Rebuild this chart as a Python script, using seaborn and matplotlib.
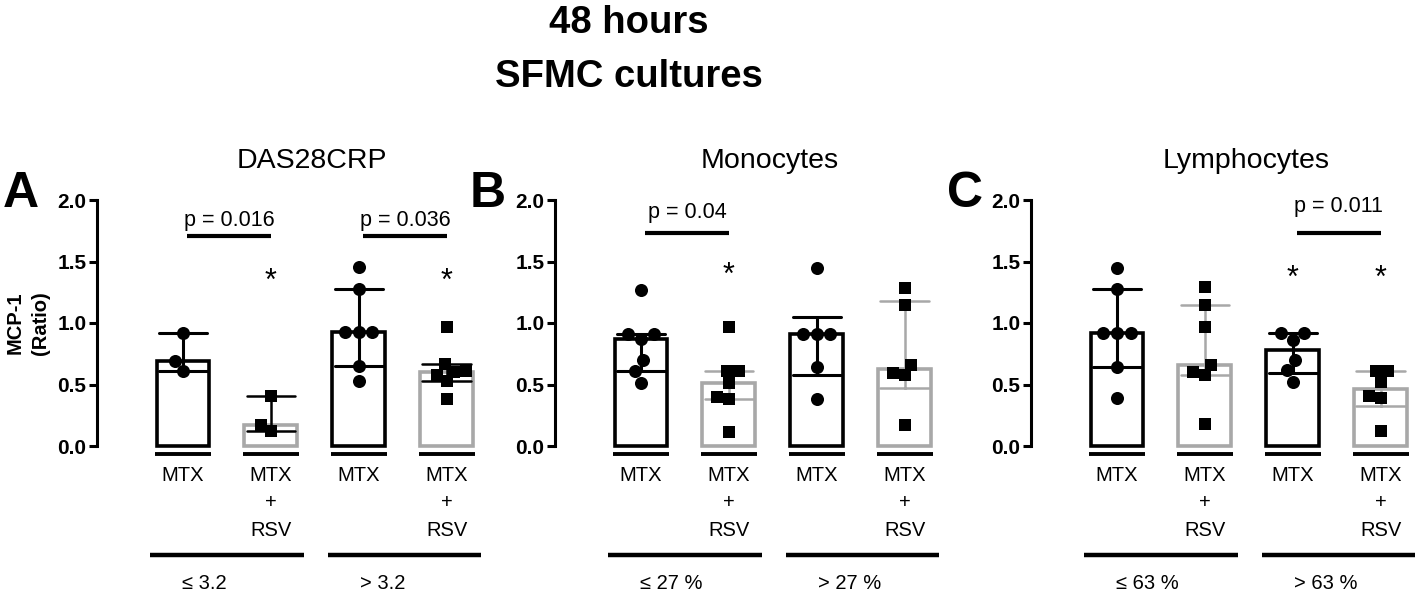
import numpy as np
import pandas as pd
import seaborn as sns
import matplotlib.pyplot as plt

sns.set_style("white")
plt.rcParams['font.family'] = ['Liberation Sans', 'DejaVu Sans']
plt.rcParams['text.color'] = 'black'
plt.rcParams['xtick.color'] = 'black'
plt.rcParams['ytick.color'] = 'black'
plt.rcParams['axes.edgecolor'] = 'black'

# values (MCP-1 ratio, one point per patient)
panel_titles = ["DAS28CRP", "Monocytes", "Lymphocytes"]
panel_letters = ["A", "B", "C"]
group_labels = [["≤ 3.2", "> 3.2"], ["≤ 27 %", "> 27 %"], ["≤ 63 %", "> 63 %"]]
bar_keys = ["MTX_lo", "RSV_lo", "MTX_hi", "RSV_hi"]
bar_labels = ["MTX", "MTX\n+\nRSV", "MTX", "MTX\n+\nRSV"]

das_mtx_lo = [0.92, 0.695, 0.61]
das_rsv_lo = [0.41, 0.17, 0.12]
das_mtx_hi = [1.454, 1.277, 0.928, 0.928, 0.928, 0.65, 0.527]
das_rsv_hi = [0.969, 0.663, 0.61, 0.60, 0.58, 0.527, 0.385]

mono_mtx_lo = [1.265, 0.914, 0.914, 0.873, 0.697, 0.611, 0.514]
mono_rsv_lo = [0.968, 0.608, 0.608, 0.516, 0.40, 0.386, 0.116]
mono_mtx_hi = [1.446, 0.914, 0.914, 0.914, 0.643, 0.386]
mono_rsv_hi = [1.286, 1.143, 0.657, 0.597, 0.576, 0.17]

lym_mtx_lo = [1.45, 1.274, 0.921, 0.921, 0.921, 0.645, 0.393]
lym_rsv_lo = [1.295, 1.146, 0.97, 0.659, 0.599, 0.577, 0.176]
lym_mtx_hi = [0.921, 0.921, 0.862, 0.699, 0.618, 0.523]
lym_rsv_hi = [0.61, 0.61, 0.523, 0.409, 0.388, 0.125]

# significance: (bar i, bar j, text)
sig_pairs = [[(0, 1, "p = 0.016"), (2, 3, "p = 0.036")],
             [(0, 1, "p = 0.04")],
             [(2, 3, "p = 0.011")]]
sig_line_y = [[1.71, 1.71], [1.735], [1.73]]
sig_text_y = [[1.787, 1.787], [1.854], [1.904]]
stars = [[1, 3], [1], [2, 3]]
star_y = [1.27, 1.32, 1.29]

panels = [
    [das_mtx_lo, das_rsv_lo, das_mtx_hi, das_rsv_hi],
    [mono_mtx_lo, mono_rsv_lo, mono_mtx_hi, mono_rsv_hi],
    [lym_mtx_lo, lym_rsv_lo, lym_mtx_hi, lym_rsv_hi],
]

GRAY = "#a8a8a8"
rsv_err_color = ["black", GRAY, GRAY]


def iqr(v):
    # GraphPad style quartiles
    return (np.percentile(v, 25, method="weibull"),
            np.percentile(v, 75, method="weibull"))


W, H = 1418, 596
fig = plt.figure(figsize=(W / 100, H / 100), dpi=100)
axes_left = [97, 555, 1031]

for p in range(3):
    rows = []
    for key, vals in zip(bar_keys, panels[p]):
        for v in vals:
            rows.append({"grp": key, "drug": key[:3], "val": v})
    df = pd.DataFrame(rows)
    mtx = df[df.drug == "MTX"]
    rsv = df[df.drug == "RSV"]

    ax = fig.add_axes([axes_left[p] / W, 150 / H, 398 / W, 246 / H])

    sns.barplot(data=mtx, x="grp", y="val", order=bar_keys, estimator=np.median,
                errorbar=iqr, capsize=0.55, width=0.6, fill=False, color="black",
                linewidth=2.6, err_kws={"color": "black", "linewidth": 2.2}, ax=ax)
    sns.barplot(data=rsv, x="grp", y="val", order=bar_keys, estimator=np.median,
                errorbar=iqr, capsize=0.55, width=0.6, fill=False, color=GRAY,
                linewidth=2.6, err_kws={"color": rsv_err_color[p], "linewidth": 1.8}, ax=ax)
    sns.swarmplot(data=mtx, x="grp", y="val", order=bar_keys, color="black",
                  marker="o", size=9.4, linewidth=0, zorder=4, ax=ax)
    sns.swarmplot(data=rsv, x="grp", y="val", order=bar_keys, color="black",
                  marker="s", size=8.3, linewidth=0, zorder=4, ax=ax)

    for patch in ax.patches:
        patch.set_clip_on(False)
    for ln in ax.lines:
        ln.set_clip_on(False)
    for coll in ax.collections:
        coll.set_clip_on(False)

    ax.set_xlim(-0.977, 3.55)
    ax.set_ylim(0, 2)
    ax.set_xlabel("")
    ax.set_ylabel("")
    for s in ["top", "right", "bottom"]:
        ax.spines[s].set_visible(False)
    ax.spines["left"].set_linewidth(2.2)
    ax.set_yticks([0, 0.5, 1.0, 1.5, 2.0])
    ax.set_yticklabels([f"{t:.1f}" for t in [0, 0.5, 1.0, 1.5, 2.0]],
                       fontsize=15, fontweight="bold")
    ax.tick_params(axis="y", length=6, width=2.2, pad=1.5, direction="out", left=True)
    ax.set_xticks(range(4))
    ax.set_xticklabels(bar_labels, fontsize=14.5, linespacing=1.55)
    ax.tick_params(axis="x", length=0, pad=14.5)

    # short lines under each bar
    ax.hlines([-0.065] * 4, np.arange(4) - 0.32, np.arange(4) + 0.32,
              color="black", linewidth=2.8, clip_on=False)
    # group lines and labels
    for g, (x0, x1) in enumerate([(-0.375, 1.375), (1.65, 3.39)]):
        ax.hlines(-0.886, x0, x1, color="black", linewidth=3.2, clip_on=False)
        ax.text(x0 + 0.37, -1.114, group_labels[p][g], fontsize=14.5,
                ha="left", va="center", clip_on=False)

    for k, (i, j, txt) in enumerate(sig_pairs[p]):
        ax.hlines(sig_line_y[p][k], i + 0.05, j + 0.0, color="black", linewidth=3)
        ax.text((i + j + 0.05) / 2, sig_text_y[p][k], txt, fontsize=15.5,
                ha="center", va="baseline")
    for s in stars[p]:
        ax.text(s, star_y[p], "*", fontsize=22, ha="center", va="baseline")

    ax.text(1.47, 2.317, panel_titles[p], fontsize=20.5, ha="center", va="center",
            clip_on=False)

# panel letters
for letter, x in zip(panel_letters, [3, 470, 947]):
    fig.text(x / W, (H - 207) / H, letter, fontsize=36, fontweight="bold",
             ha="left", va="baseline")

fig.text(28 / W, (H - 323) / H, "MCP-1\n(Ratio)", rotation=90, fontsize=14.5,
         fontweight="bold", ha="center", va="center", linespacing=1.4)

fig.text(629 / W, (H - 33) / H, "48 hours", fontsize=27.5, fontweight="bold",
         ha="center", va="baseline")
fig.text(629 / W, (H - 87) / H, "SFMC cultures", fontsize=27.5, fontweight="bold",
         ha="center", va="baseline")

fig.savefig("out.png", dpi=100)
